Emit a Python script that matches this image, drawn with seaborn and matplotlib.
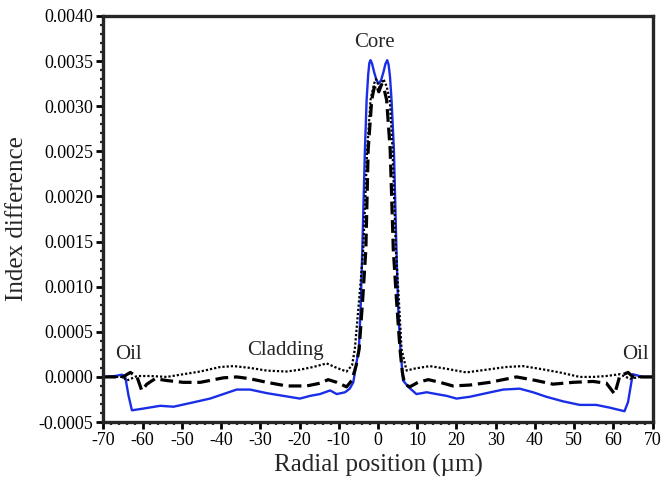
import numpy as np
import pandas as pd
import matplotlib
matplotlib.use("Agg")
import matplotlib.pyplot as plt
from matplotlib.ticker import MultipleLocator, AutoMinorLocator, FormatStrFormatter
import seaborn as sns

# ---- data ----
blue_x = [-70, -67, -65.2, -64.4, -63.6, -62.7, -59.7, -55.5, -52.1, -47.9, -42.8, -39.4, -36.0,
          -32.6, -28.3, -24.1, -19.9, -17.3, -14.8, -12.2, -10.5, -8.4, -7.2, -6.3, -5.4, -4.86,
          -4.4, -4.0, -3.33, -2.9, -2.5, -2.2, -1.9, -1.5, -1.0, -0.4, 0.2, 0.8, 1.4, 1.9, 2.35,
          2.7, 3.05, 3.45, 4.05, 4.7, 5.1, 5.7, 6.4, 7.7, 9.8, 12.4, 14.9, 17.5, 20.0, 23.4, 27.6,
          31.9, 36.1, 39.5, 42.9, 47.1, 51.4, 55.6, 59.0, 62.8, 63.7, 64.9, 67.5, 70]
blue_y = [0.0, 0.00001, 0.000025, 0.0, -0.0002, -0.00037, -0.00035, -0.00032, -0.00033, -0.00029,
          -0.00024, -0.00019, -0.00014, -0.00014, -0.00018, -0.00021, -0.00024, -0.00021, -0.00019,
          -0.00015, -0.00019, -0.00017, -0.00013, -0.00006, 0.00018, 0.00031, 0.0008, 0.00141,
          0.00252, 0.00307, 0.00335, 0.00348, 0.00351, 0.00347, 0.00338, 0.00329, 0.00325, 0.00329,
          0.00338, 0.00347, 0.00351, 0.00346, 0.00333, 0.00307, 0.00252, 0.00141, 0.0008, 0.00031,
          -0.00004, -0.00011, -0.00019, -0.00017, -0.00019, -0.00021, -0.00024, -0.00022, -0.00018,
          -0.00014, -0.00013, -0.00017, -0.00022, -0.00027, -0.00031, -0.00031, -0.00034, -0.00038,
          -0.00028, 0.00003, 0.0, 0.0]

dash_x = [-70, -65, -63.1, -61.4, -60.2, -58.9, -56.8, -53.8, -49.6, -45.3, -39.4, -36.0, -32.6,
          -28.3, -23.3, -18.2, -14.8, -12.7, -10.5, -8.0, -6.7, -5.6, -4.8, -3.9, -3.1, -2.5, -1.6,
          -1.0, -0.4, 0.2, 0.9, 1.5, 2.2, 3.1, 3.9, 4.7, 5.6, 6.2, 6.8, 8.1, 10.2, 12.8, 15.8, 19.1,
          23.4, 28.5, 35.3, 40.3, 44.6, 49.7, 54.8, 58.2, 60.3, 61.6, 63.7, 65.0, 70]
dash_y = [0.0, 0.0, 0.00005, 0.0, -0.00015, -0.00008, -0.00002, -0.00004, -0.00006, -0.00006,
          -0.00001, 0.0, -0.00002, -0.00006, -0.0001, -0.0001, -0.00007, -0.00003, -0.00006,
          -0.00011, -0.00004, 0.00012, 0.00031, 0.00086, 0.00141, 0.00252, 0.00307, 0.0032,
          0.00324, 0.00316, 0.00324, 0.0032, 0.00307, 0.00252, 0.00141, 0.00086, 0.00031, 0.00005,
          -0.00008, -0.00011, -0.00006, -0.00003, -0.00006, -0.0001, -0.00009, -0.00006, 0.0,
          -0.00004, -0.00008, -0.00006, -0.00005, -0.00007, -0.00019, 0.00001, 0.00005, 0.0, 0.0]

dot_x = [-70, -65, -64.0, -61.4, -58.0, -53.8, -49.6, -45.3, -40.2, -36.8, -32.6, -28.3, -23.3,
         -19.9, -16.5, -13.1, -10.5, -8.0, -6.6, -5.9, -4.8, -3.76, -2.75, -1.9, -1.0, -0.5, 0.4,
         1.4, 2.2, 3.0, 3.7, 4.55, 5.3, 6.0, 7.0, 7.3, 9.0, 13.2, 17.5, 22.5, 27.6, 32.7, 36.9,
         41.2, 46.3, 51.4, 54.8, 58.2, 61.6, 64.2, 66.7, 70]
dot_y = [0.0, 0.0, -0.00004, 0.00001, 0.00001, 0.0, 0.00003, 0.00006, 0.00011, 0.00012, 0.0001,
         0.00007, 0.00006, 0.00008, 0.00011, 0.00015, 0.0001, 0.00006, 0.00013, 0.00031, 0.00086,
         0.00141, 0.00252, 0.00307, 0.00325, 0.0033, 0.0032, 0.0033, 0.00322, 0.00307, 0.00252,
         0.00141, 0.00086, 0.00031, 0.00012, 0.00007, 0.00009, 0.00012, 0.00009, 0.00005, 0.00008,
         0.00011, 0.00012, 0.00009, 0.00005, 0.0, 0.0, 0.00001, 0.00003, -0.00002, 0.0, 0.0]

x_ticks = list(range(-70, 71, 10))
y_ticks = [-0.0005, 0.0, 0.0005, 0.0010, 0.0015, 0.0020, 0.0025, 0.0030, 0.0035, 0.0040]

# ---- style ----
sns.set_style("ticks")
plt.rcParams["font.family"] = ["Liberation Serif", "DejaVu Serif"]
plt.rcParams["axes.unicode_minus"] = False

fig = plt.figure(figsize=(6.62, 4.84), dpi=100)
ax = fig.add_axes([0.156, 0.128, 0.830, 0.839])

sns.lineplot(x=blue_x, y=blue_y, ax=ax, color="#1a2ee8", lw=1.7, estimator=None, sort=False)
sns.lineplot(x=dash_x, y=dash_y, ax=ax, color="black", lw=2.3, estimator=None, sort=False)
ax.lines[-1].set_dashes([4, 1.8])
sns.lineplot(x=dot_x, y=dot_y, ax=ax, color="black", lw=1.6, estimator=None, sort=False)
ax.lines[-1].set_dashes([1, 0.9])

ax.set_xlim(-70, 70)
ax.set_ylim(-0.0005, 0.0040)
ax.set_xticks(x_ticks)
ax.set_yticks(y_ticks)
ax.yaxis.set_major_formatter(FormatStrFormatter("%.4f"))
ax.xaxis.set_minor_locator(AutoMinorLocator(5))
ax.yaxis.set_minor_locator(AutoMinorLocator(5))

for s in ax.spines.values():
    s.set_linewidth(2.4)
    s.set_visible(True)
ax.tick_params(which="major", direction="out", length=5, width=2.0, labelsize=13, colors="black",
               top=False, right=False, pad=2)
ax.tick_params(which="minor", direction="out", length=2.5, width=1.6, top=False, right=False)

ax.set_xlabel("Radial position (\u00b5m)", fontsize=18, labelpad=4)
ax.set_ylabel("Index difference", fontsize=18, labelpad=8)

ax.text(-0.8, 0.00371, "Core", fontsize=15, ha="center", va="center")
ax.text(-23.7, 0.00029, "Cladding", fontsize=15, ha="center", va="center")
ax.text(-63.6, 0.00025, "Oil", fontsize=15, ha="center", va="center")
ax.text(65.6, 0.00025, "Oil", fontsize=15, ha="center", va="center")

fig.savefig("out.png", dpi=100, facecolor="white")
